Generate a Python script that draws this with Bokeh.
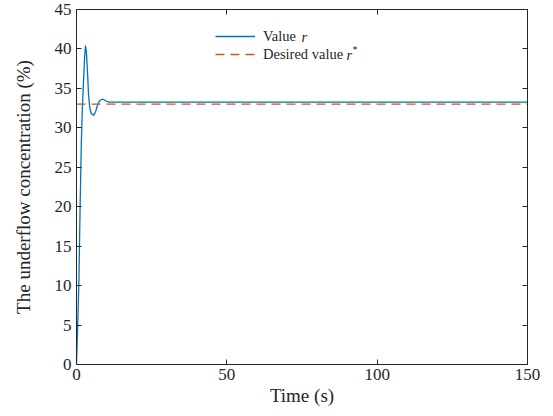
from bokeh.plotting import figure
from bokeh.models import Legend, LegendItem, Label, LinearAxis, Range1d, FixedTicker
from bokeh.embed import file_html
from bokeh.resources import INLINE

# Data
time_s = [0, 0.4, 0.8, 1.2, 1.6, 2.0, 2.4, 2.7, 3.0, 3.3, 3.7, 4.0, 4.4, 4.9, 5.75,
          6.4, 7.0, 7.6, 8.3, 9.0, 9.8, 10.8, 12.0, 150]
value_r = [0, 5, 10.5, 20, 28, 33, 36.5, 39, 40.4, 39.6, 36.8, 34.2, 32.6, 31.8, 31.6,
           32.1, 32.9, 33.4, 33.6, 33.6, 33.4, 33.25, 33.25, 33.25]
desired_t = [0, 150]
desired_r = [33, 33]

x_ticks = [0, 50, 100, 150]
y_ticks = [0, 5, 10, 15, 20, 25, 30, 35, 40, 45]
x_label = "Time (s)"
y_label = "The underflow concentration (%)"

FONT = "Liberation Serif"
AX = "#262626"
BLUE = "#0072BD"
RED = "#D95319"

p = figure(width=553, height=416, output_backend="svg", toolbar_location=None,
           x_range=Range1d(0, 150), y_range=Range1d(0, 45),
           min_border_left=76, min_border_right=26, min_border_top=9, min_border_bottom=52)
p.grid.visible = False
p.outline_line_color = None
p.background_fill_color = "white"

def style(ax):
    ax.axis_line_color = AX
    ax.axis_line_width = 1
    ax.major_tick_line_color = AX
    ax.major_tick_in = 5
    ax.major_tick_out = 0
    ax.minor_tick_line_color = None
    ax.major_label_text_font = FONT
    ax.major_label_text_font_size = "17px"
    ax.major_label_text_color = AX
    ax.axis_label_text_font = FONT
    ax.axis_label_text_font_size = "19px"
    ax.axis_label_text_font_style = "normal"
    ax.axis_label_text_color = AX

p.xaxis.ticker = FixedTicker(ticks=x_ticks)
p.yaxis.ticker = FixedTicker(ticks=y_ticks)
p.xaxis.axis_label = x_label
p.yaxis.axis_label = y_label
style(p.xaxis[0])
style(p.yaxis[0])
p.xaxis.major_label_standoff = 4
p.xaxis.axis_label_standoff = 2
p.yaxis.major_label_standoff = 5
p.yaxis.axis_label_standoff = 18

top = LinearAxis(ticker=FixedTicker(ticks=x_ticks),
                 major_label_overrides={t: "" for t in x_ticks})
right = LinearAxis(ticker=FixedTicker(ticks=y_ticks),
                   major_label_overrides={t: "" for t in y_ticks})
style(top)
style(right)
top.major_label_standoff = 0
right.major_label_standoff = 0
p.add_layout(top, "above")
p.add_layout(right, "right")

l1 = p.line(time_s, value_r, line_color=BLUE, line_width=1.3, line_join="round")
l2 = p.line(desired_t, desired_r, line_color=RED, line_width=1.3, line_dash="9 6")

legend = Legend(items=[LegendItem(label="Value", renderers=[l1]),
                       LegendItem(label="Desired value", renderers=[l2])],
                location=(139, 301), orientation="vertical",
                border_line_alpha=0, background_fill_alpha=0,
                padding=0, margin=0, spacing=0,
                glyph_width=40, glyph_height=18, label_height=18,
                label_standoff=8,
                label_text_font=FONT, label_text_font_size="14.5px",
                label_text_color=AX)
p.add_layout(legend, "center")

# italic symbols following the legend labels (screen units relative to the frame)
for txt, xx, yy, size, style_ in [("r", 225, 328, "14.5px", "italic"),
                                   ("r", 270, 310, "14.5px", "italic"),
                                   ("*", 276, 315, "10px", "normal")]:
    p.add_layout(Label(x=xx, y=yy, x_units="screen", y_units="screen", text=txt,
                       text_font=FONT, text_font_style=style_,
                       text_font_size=size, text_color=AX, text_baseline="middle"))

open("out.html", "w").write(file_html(p, INLINE))
